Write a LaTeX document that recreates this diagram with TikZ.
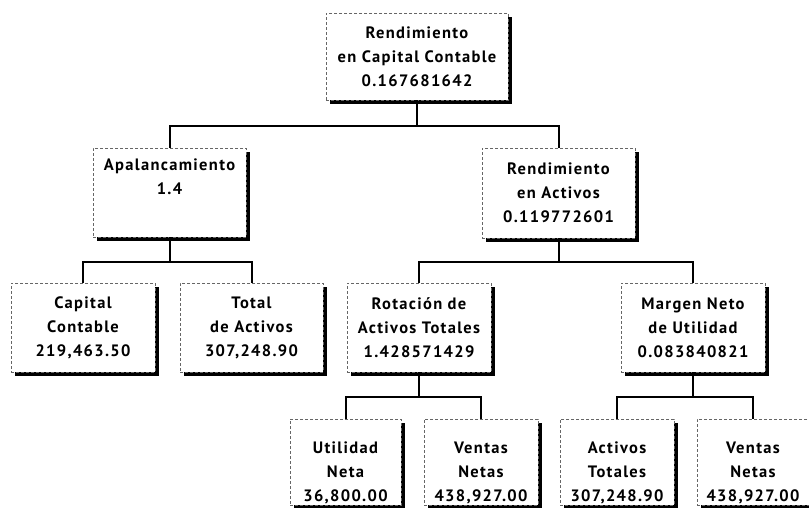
\documentclass[tikz,border=0pt]{standalone}
\usepackage{fontspec}
\setmainfont{PT Sans}[LetterSpace=8]
\usetikzlibrary{shadows}
% pushes the text of a box down a little
\newcommand{\dropline}{\rule{0pt}{33pt}}
\begin{document}
\begin{tikzpicture}[x=1pt,y=-1pt,
  box/.style={draw=black!60, line width=0.7pt, densely dashed, fill=white,
    drop shadow={shadow xshift=3.5pt, shadow yshift=-3.5pt, fill=black, opacity=1},
    inner sep=0pt, align=center, minimum height=89pt,
    font=\bfseries\fontsize{16.5}{24}\selectfont},
  link/.style={line width=2pt, black, line join=miter}]
\fill[white] (0,0) rectangle (809,507);
\clip (0,0) rectangle (809,507);

% level 1
\node[box, minimum width=182pt, minimum height=87pt] (roe) at (417,56.5)
  {Rendimiento\\en Capital Contable\\0.167681642};

% level 2
\node[box, minimum width=153pt] (apal) at (169.5,192.5)
  {Apalancamiento\\1.4\\\strut};
\node[box, minimum width=153pt, minimum height=90pt] (roa) at (558.5,193)
  {Rendimiento\\en Activos\\0.119772601};

% level 3
\node[box, minimum width=144pt] (cap) at (83,327.5)
  {Capital\\Contable\\219,463.50};
\node[box, minimum width=143pt] (tot) at (251.5,327.5)
  {Total\\de Activos\\307,248.90};
\node[box, minimum width=144pt] (rot) at (419,327.5)
  {Rotación de\\Activos Totales\\1.428571429};
\node[box, minimum width=144pt] (mar) at (693,327.5)
  {Margen Neto\\de Utilidad\\0.083840821};

% level 4
\node[box, minimum width=111pt, minimum height=86pt] (uti) at (345.5,462)
  {\dropline Utilidad\\Neta\\36,800.00};
\node[box, minimum width=114pt, minimum height=86pt] (ven1) at (481,462)
  {\dropline Ventas\\Netas\\438,927.00};
\node[box, minimum width=114pt, minimum height=86pt] (act) at (617,462)
  {\dropline Activos\\Totales\\307,248.90};
\node[box, minimum width=112pt, minimum height=86pt] (ven2) at (753,462)
  {\dropline Ventas\\Netas\\438,927.00};

% connectors
\draw[link] (roe.south) -- ++(0,26) -| (apal.north);
\draw[link] (roe.south) -- ++(0,26) -| (roa.north);
\draw[link] (apal.south) -- ++(0,25) -| (cap.north);
\draw[link] (apal.south) -- ++(0,25) -| (tot.north);
\draw[link] (roa.south) -- ++(0,24) -| (rot.north);
\draw[link] (roa.south) -- ++(0,24) -| (mar.north);
\draw[link] (rot.south) -- ++(0,25) -| (uti.north);
\draw[link] (rot.south) -- ++(0,25) -| (ven1.north);
\draw[link] (mar.south) -- ++(0,25) -| (act.north);
\draw[link] (mar.south) -- ++(0,25) -| (ven2.north);
\end{tikzpicture}
\end{document}
